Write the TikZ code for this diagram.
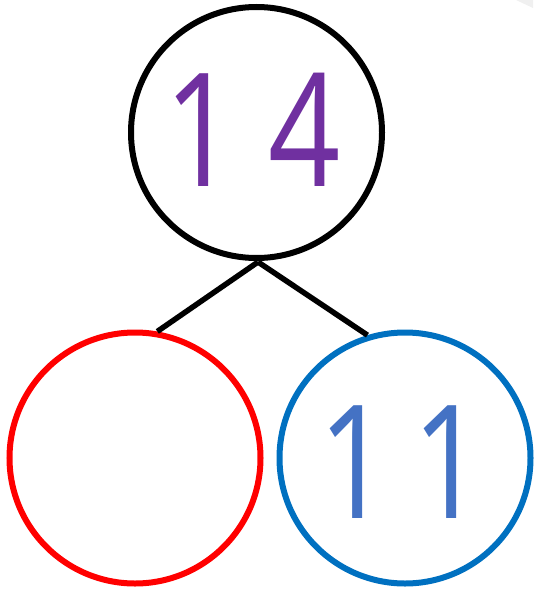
\documentclass[tikz,border=0pt]{standalone}
\usepackage{fontspec}
\setmainfont{Open Sans}
\newfontfamily\numfont[FakeStretch=0.8]{Open Sans}
\definecolor{numpurple}{HTML}{7030A0}
\definecolor{numblue}{HTML}{4472C4}
\definecolor{ringblue}{HTML}{0070C0}
\definecolor{ringred}{HTML}{FF0000}
\begin{document}
\begin{tikzpicture}[x=1pt,y=-1pt,
  ring/.style={circle,draw,line width=6pt,minimum size=251pt,inner sep=0pt},
  numtext/.style={font=\numfont\fontsize{158}{158}\selectfont},
  link/.style={line width=5.5pt}]
\useasboundingbox (0,0) rectangle (533,589);
\fill[gray!12] (516,0) -- (533,0) -- (533,8) -- cycle;
\node[ring,draw=black] (top) at (256.5,132.5) {};
\node[ring,draw=ringred] (left) at (135,458) {};
\node[ring,draw=ringblue] (right) at (405,458) {};
\node[numtext,text=numpurple] (n14) at (253,130) {1\hspace{0.2em}4};
\node[numtext,text=numblue] (n11) at (402,462) {1\hspace{0.14em}1};
\coordinate (apex) at (258,262);
\draw[link] (apex) -- (left.80);
\draw[link] (apex) -- (right.107);
\end{tikzpicture}
\end{document}
